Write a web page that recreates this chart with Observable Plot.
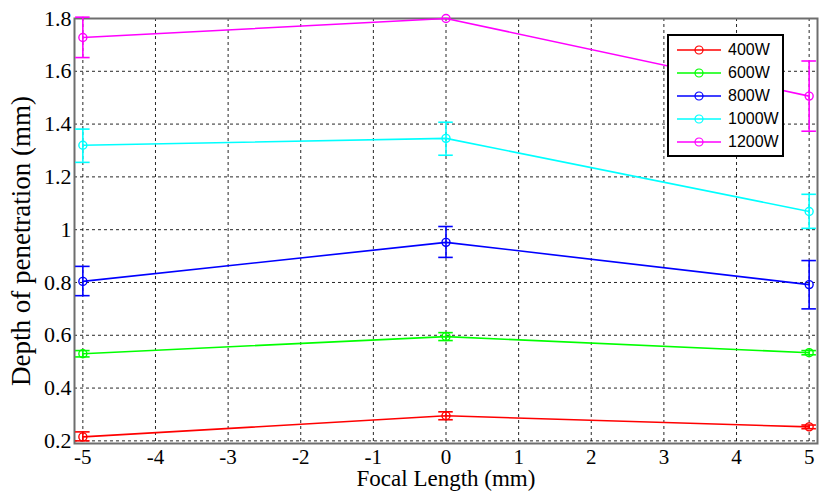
<!DOCTYPE html>
<html><head><meta charset="utf-8">
<script src="https://cdn.jsdelivr.net/npm/d3@7"></script>
<script src="https://cdn.jsdelivr.net/npm/@observablehq/plot@0.6"></script>
<style>
body{margin:0;background:#fff;}
#wrap{position:relative;width:820px;height:497px;}
#legend{position:absolute;left:667px;top:34px;width:113px;height:119px;border:2px solid #000;background:#fff;font-family:"Liberation Sans",Arial,sans-serif;font-size:16px;color:#000;}
.row{position:absolute;left:0;height:20px;display:flex;align-items:center;}
.row span{margin-left:5px;}
</style>
</head><body>
<div id="wrap"><div id="legend"></div></div>
<script>
const focal = [-5, 0, 5];
const series = ["400W", "600W", "800W", "1000W", "1200W"];
const colors = ["#ff0000", "#00ff00", "#0000ff", "#00ffff", "#ff00ff"];
const means = {
  "400W":  [0.215, 0.295, 0.253],
  "600W":  [0.530, 0.595, 0.534],
  "800W":  [0.804, 0.952, 0.792],
  "1000W": [1.320, 1.346, 1.069],
  "1200W": [1.728, 1.800, 1.506]
};
const lows = {
  "400W":  [0.200, 0.280, 0.246],
  "600W":  [0.518, 0.580, 0.526],
  "800W":  [0.750, 0.895, 0.700],
  "1000W": [1.255, 1.282, 1.005],
  "1200W": [1.652, 1.800, 1.373]
};
const highs = {
  "400W":  [0.234, 0.310, 0.260],
  "600W":  [0.542, 0.610, 0.542],
  "800W":  [0.861, 1.012, 0.883],
  "1000W": [1.381, 1.407, 1.134],
  "1200W": [1.805, 1.800, 1.639]
};
const xTicks = [-5,-4,-3,-2,-1,0,1,2,3,4,5];
const yTicks = [0.2,0.4,0.6,0.8,1.0,1.2,1.4,1.6,1.8];
const capHalf = 0.1;

const rows = [];
series.forEach(s => focal.forEach((f, i) => rows.push({series: s, x: f, y: means[s][i], lo: lows[s][i], hi: highs[s][i]})));
const withErr = rows.filter(d => d.hi - d.lo > 0.001);

const plot = Plot.plot({
  width: 820, height: 497,
  marginLeft: 74, marginRight: 3, marginTop: 18, marginBottom: 54,
  style: {fontFamily: "'Liberation Serif','Times New Roman',serif", fontSize: "22px", color: "#000", background: "#fff"},
  x: {domain: [-5.115, 5.115]},
  y: {domain: [0.19, 1.8]},
  color: {domain: series, range: colors},
  marks: [
    Plot.gridX(xTicks, {stroke: "#000", strokeOpacity: 0.85, strokeDasharray: "3,3", strokeWidth: 1}),
    Plot.gridY(yTicks, {stroke: "#000", strokeOpacity: 0.85, strokeDasharray: "3,3", strokeWidth: 1}),
    Plot.frame({stroke: "#6e6e6e", strokeWidth: 2}),
    Plot.axisX(xTicks, {tickSize: 0, tickPadding: 6, fontSize: 21, tickFormat: d => d < 0 ? "-" + Math.abs(d) : String(d), label: null}),
    Plot.axisY(yTicks, {tickSize: 0, tickPadding: 3, fontSize: 22, tickFormat: d => String(+d.toFixed(1)), label: null}),
    Plot.line(rows, {x: "x", y: "y", z: "series", stroke: "series", strokeWidth: 1.6}),
    Plot.ruleX(withErr, {x: "x", y1: "lo", y2: "hi", stroke: "series", strokeWidth: 1.6}),
    Plot.ruleY(withErr, {y: "lo", x1: d => d.x - capHalf, x2: d => d.x + capHalf, stroke: "series", strokeWidth: 1.6}),
    Plot.ruleY(withErr, {y: "hi", x1: d => d.x - capHalf, x2: d => d.x + capHalf, stroke: "series", strokeWidth: 1.6}),
    Plot.dot(rows, {x: "x", y: "y", stroke: "series", r: 4, strokeWidth: 1.4, fill: "none"}),
    Plot.text(["Depth of penetration (mm)"], {frameAnchor: "left", textAnchor: "middle", dx: -53, dy: 10, rotate: -90, text: d => d, fontSize: 27}),
    Plot.text(["Focal Length (mm)"], {frameAnchor: "bottom", textAnchor: "middle", dy: 42, text: d => d, fontSize: 23})
  ]
});
document.getElementById("wrap").prepend(plot);

const leg = document.getElementById("legend");
series.forEach((s, i) => {
  const r = document.createElement("div");
  r.className = "row";
  r.style.top = (4 + i * 23) + "px";
  r.innerHTML = `<svg width="48" height="14" style="margin-left:6px"><line x1="2" y1="7" x2="46" y2="7" stroke="${colors[i]}" stroke-width="1.5"/><circle cx="24" cy="7" r="4" fill="none" stroke="${colors[i]}" stroke-width="1.2"/></svg><span>${s}</span>`;
  leg.appendChild(r);
});
</script>
</body></html>
